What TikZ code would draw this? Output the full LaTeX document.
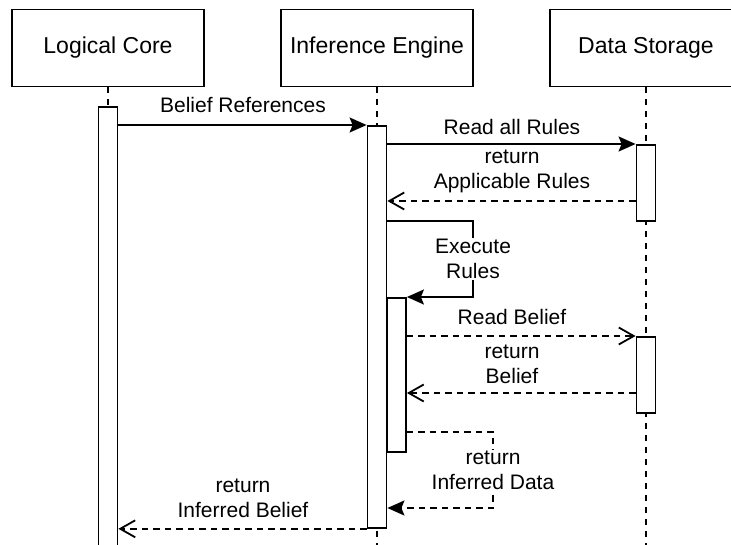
\documentclass[tikz,border=0pt]{standalone}
\usepackage{fontspec}
\setmainfont{Liberation Sans}
\usetikzlibrary{arrows.meta}

\begin{document}
\begin{tikzpicture}[x=1pt, y=-1pt, line width=1.8pt,
  party/.style={draw, minimum width=192pt, minimum height=77pt,
    inner sep=0pt, font=\fontsize{23}{27}\selectfont},
  actbar/.style={draw, fill=white, minimum width=19pt,
    inner sep=0pt, anchor=north},
  life/.style={dash pattern=on 6pt off 6pt},
  lbl/.style={font=\fontsize{21}{25}\selectfont, align=center, inner sep=1pt},
  selflbl/.style={lbl, fill=white},
  call/.style={-{Stealth[length=17pt, width=15pt, inset=3pt]}},
  reply/.style={dash pattern=on 6.5pt off 5pt,
    -{Straight Barb[length=15pt, width=17pt, line width=1.8pt]}},
  dreturn/.style={dash pattern=on 6.5pt off 5pt,
    -{Stealth[length=17pt, width=15pt, inset=3pt]}},
]
\useasboundingbox (0,0) rectangle (731,544);
\clip (0,0) rectangle (731,544);

% participants
\node[party] (lc) at (108,48) {Logical Core};
\node[party] (ie) at (377,48) {Inference Engine};
\node[party] (ds) at (646,48) {Data Storage};

% lifelines
\coordinate (lcend) at (108,546);
\coordinate (ieend) at (377,546);
\coordinate (dsend) at (646,546);
\draw[life] (lc.south) -- (lcend);
\draw[life] (ie.south) -- (ieend);
\draw[life] (ds.south) -- (dsend);

% activation bars
\node[actbar, minimum height=446pt] (lcbar) at (108,106) {};
\node[actbar, minimum height=402pt] (iebar) at (377,125) {};
\node[actbar, minimum height=154pt] (ienest) at (396.5,297) {};
\node[actbar, minimum height=76pt] (dsbar1) at (646,144) {};
\node[actbar, minimum height=76pt] (dsbar2) at (646,336) {};

% helper heights
\coordinate (yret1) at (0,201);
\coordinate (exec) at (473,221);
\coordinate (yret2) at (0,393);
\coordinate (infd) at (493,432);
\coordinate (yret3) at (0,508);

% Belief References
\draw[call] (lcbar.east |- iebar.north) -- (iebar.north west);
\node[lbl] (m1) at (243,105) {Belief References};

% Read all Rules
\draw[call] (iebar.east |- dsbar1.north) -- (dsbar1.north west);
\node[lbl] (m2) at (512,127) {Read all Rules};

% return Applicable Rules
\draw[reply] (dsbar1.west |- yret1) -- (iebar.east |- yret1);
\node[lbl] (m3) at (512,171) {return\\Applicable Rules};

% Execute Rules (self call)
\draw[call] (iebar.east |- exec) -- (exec) |- (ienest.north east);
\node[selflbl] (m4) at (473,259) {Execute\\Rules};

% Read Belief
\draw[reply] (ienest.east |- dsbar2.north) -- (dsbar2.north west);
\node[lbl] (m5) at (512,317) {Read Belief};

% return Belief
\draw[reply] (dsbar2.west |- yret2) -- (ienest.east |- yret2);
\node[lbl] (m6) at (512,364) {return\\Belief};

% return Inferred Data (self return)
\draw[dreturn] (ienest.east |- infd) -- (infd) |- (iebar.east |- yret3);
\node[selflbl] (m7) at (493,470) {return\\Inferred Data};

% return Inferred Belief
\draw[reply] (iebar.south west) -- (lcbar.east |- iebar.south);
\node[lbl] (m8) at (243,498) {return\\Inferred Belief};
\end{tikzpicture}
\end{document}
